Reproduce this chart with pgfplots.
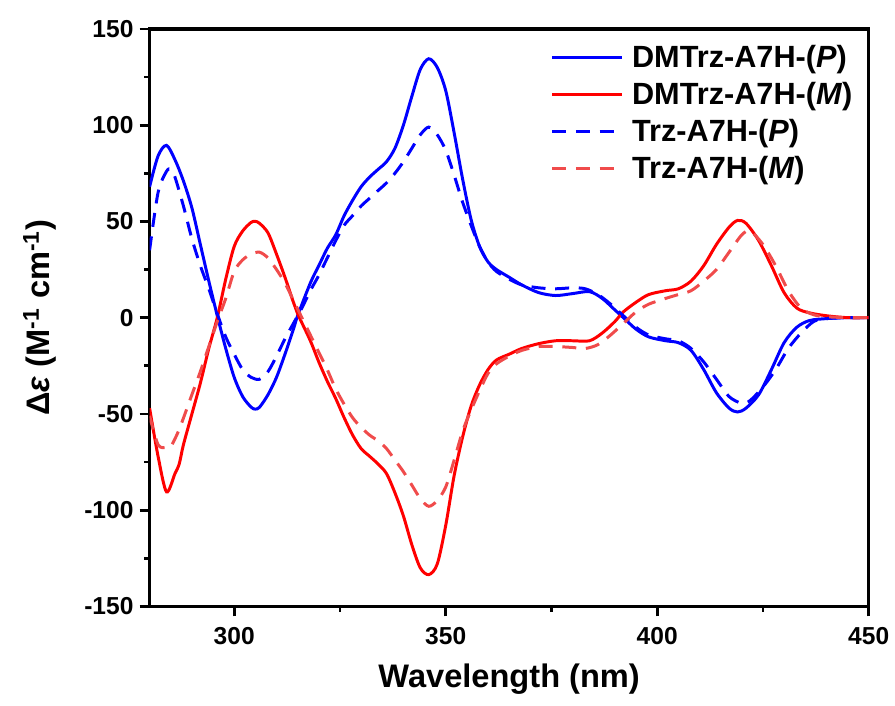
\documentclass[border=0pt]{standalone}
\usepackage{pgfplots}
\pgfplotsset{compat=1.18}
\usepackage{fontspec}
\setmainfont{Liberation Sans}

\definecolor{cdblue}{RGB}{0,0,255}
\definecolor{cdred}{RGB}{255,0,0}
\definecolor{cdlred}{RGB}{240,75,75}

\begin{document}
\begin{tikzpicture}
\begin{axis}[
    scale only axis,
    width=14.42cm, height=11.58cm,
    xmin=280, xmax=450,
    ymin=-150, ymax=150,
    xtick={300,350,400,450},
    ytick={-150,-100,-50,0,50,100,150},
    minor tick num=1,
    tick pos=left,
    tick align=outside,
    major tick length=0.2cm,
    minor tick length=0.11cm,
    every tick/.style={black, line width=1.6pt},
    axis line style={line width=1.8pt},
    /pgf/number format/assume math mode=true,
    ticklabel style={font=\fontsize{14}{16}\selectfont\bfseries},
    xticklabel style={yshift=-3pt},
    xlabel={Wavelength (nm)},
    ylabel={Δ\textit{ε} (M\textsuperscript{-1} cm\textsuperscript{-1})},
    label style={font=\fontsize{18.6}{22}\selectfont\bfseries},
    xlabel style={yshift=-4pt},
    ylabel style={yshift=9pt},
    legend style={draw=none, fill=none, at={(0.99,0.985)}, anchor=north east,
        font=\fontsize{17.5}{20}\selectfont\bfseries, row sep=3pt,
        legend cell align=left},
    legend image code/.code={\draw[#1] (0cm,0cm) -- (1.4cm,0cm); \path (1.5cm,0cm);},
    every axis plot/.append style={line width=1.7pt, smooth, tension=0.5},
]

% DMTrz-A7H-(P)
\addplot[cdblue] coordinates {
(280,68) (282,84) (284,89.5) (286,82) (288,71) (290,57) (292,38) (294,19) (296,1)
(298,-16) (300,-31) (302,-41) (304,-46.5) (305,-47.5) (306,-46.5) (308,-40) (310,-31)
(312,-19) (314,-6) (315,1) (318,18) (320,27) (322,36) (324,43) (326,53) (328,61)
(330,68) (332,73) (334,77) (336,81) (338,88) (340,100) (342,115) (344,129) (346,134.5)
(348,130) (350,118) (352,96) (354,72) (356,51) (358,37) (360,29) (362,25) (365,21)
(368,17) (372,13) (376,11.5) (380,12.5) (384,13.5) (387,10) (390,4) (392,0) (395,-6)
(398,-10) (402,-12) (405,-13) (408,-17) (411,-27) (414,-39) (417,-47) (419,-49)
(421,-47) (424,-40) (427,-27) (430,-13) (433,-5) (436,-1.5) (440,-0.5) (445,0) (450,0)
};
\addlegendentry{DMTrz-A7H-(\textit{P})}

% DMTrz-A7H-(M)
\addplot[cdred] coordinates {
(280,-47) (282,-72) (284,-90.5) (286,-81) (287,-76) (288,-66) (290,-50) (292,-34)
(294,-16) (296,0) (298,20) (300,37) (302,45) (304,49.5) (305,50) (306,49) (308,44)
(310,33) (312,21) (314,8) (315,2) (318,-12) (320,-23) (322,-33) (324,-42) (326,-52)
(328,-61) (330,-68) (332,-72) (334,-76) (336,-81) (338,-91) (340,-103) (342,-118)
(344,-130) (346,-133.5) (348,-128) (350,-108) (352,-82) (354,-62) (356,-46) (358,-35)
(360,-27) (362,-22) (365,-19) (368,-16) (372,-13.5) (376,-12) (380,-12) (384,-12)
(387,-8) (390,-2) (392,3) (395,8) (398,12) (402,14) (405,15) (408,19) (411,27)
(414,38) (417,47) (419,50.5) (421,49) (424,40) (427,27) (430,13) (433,5) (436,2.5)
(440,1) (445,0) (450,0)
};
\addlegendentry{DMTrz-A7H-(\textit{M})}

% Trz-A7H-(P)
\addplot[cdblue, dash pattern=on 8pt off 5.5pt] coordinates {
(280,35) (282,65) (284,76) (285,77) (286,73) (288,58) (290,41) (292,27) (294,15)
(296,2) (298,-10) (300,-19) (302,-27) (304,-31) (306,-32) (308,-28) (310,-20)
(312,-11) (314,-3) (316,5) (318,14) (320,22) (322,31) (324,40) (326,48) (328,53)
(330,58) (332,62) (334,66) (336,70) (338,75) (340,81) (342,88) (344,95) (346,99)
(348,95) (350,87) (352,74) (354,60) (356,48) (358,37) (360,29) (362,24) (365,20)
(368,17) (372,15.5) (376,15) (380,15.5) (383,15) (386,12) (389,7) (392,1) (395,-5)
(398,-9) (402,-11) (405,-12) (408,-16) (411,-23) (414,-32) (417,-41) (420,-44.5)
(422,-43) (425,-36) (428,-27) (431,-16) (434,-8) (437,-2) (440,-0.5) (445,0) (450,0)
};
\addlegendentry{Trz-A7H-(\textit{P})}

% Trz-A7H-(M)
\addplot[cdlred, dash pattern=on 8pt off 5.5pt] coordinates {
(280,-51) (282,-66) (284,-67.5) (285,-67) (287,-58) (290,-40) (292,-28) (294,-15)
(296,-2) (298,10) (300,24) (302,30) (304,33) (306,34) (308,31) (310,25) (312,18)
(314,9) (316,0) (318,-9) (320,-18) (322,-27) (324,-37) (326,-45) (328,-52) (330,-57)
(332,-61) (334,-64) (336,-68) (338,-74) (340,-80) (342,-87) (344,-94) (346,-98)
(348,-95) (350,-88) (352,-74) (354,-59) (356,-48) (358,-38) (360,-29) (362,-24)
(365,-20) (368,-17) (372,-15) (376,-15) (380,-15.5) (383,-16) (386,-14) (389,-9)
(392,-3) (395,3) (398,7) (402,10) (405,12) (408,14) (411,19) (414,25) (417,34)
(420,43) (422,45) (425,38) (428,27) (431,14) (434,5) (437,1.5) (440,0.5) (445,0) (450,0)
};
\addlegendentry{Trz-A7H-(\textit{M})}

\end{axis}
% page margins as in the reference
\path (current axis.south west) ++(-3.0cm,-1.98cm) coordinate (bbA);
\path (current axis.north east) ++(0.48cm,0.58cm) coordinate (bbB);
\path (bbA) rectangle (bbB);
\end{tikzpicture}
\end{document}
